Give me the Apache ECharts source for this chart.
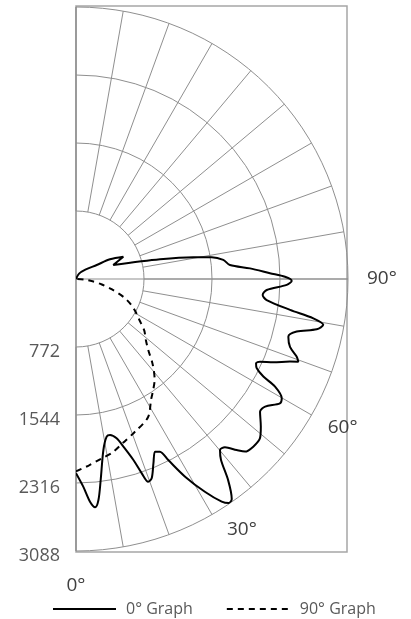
<!DOCTYPE html>
<html>
<head>
<meta charset="utf-8">
<script src="https://cdn.jsdelivr.net/npm/echarts@6/dist/echarts.min.js"></script>
<style>
html,body{margin:0;padding:0;background:#fff;}
#chart{width:411px;height:619px;}
</style>
</head>
<body>
<div id="chart"></div>
<script>
// Tick labels
const radiusTicks = [772, 1544, 2316, 3088];
const angleTicks = [0, 30, 60, 90];
const legendNames = ['0° Graph', '90° Graph'];

// 0° Graph (solid) : angle in degrees, value
const angles0 = [0, 2, 3.6, 4.8, 5.8, 7, 9.1, 11, 12.3, 14.3, 15.8, 17.6, 18.7, 19.6, 20.8, 22.8, 24.6, 25.9, 27, 28.9,
  31.2, 33.2, 34.3, 35.3, 37.1, 38.7, 40.1, 41.5, 43.2, 44.4, 46.6, 49.1, 51.4, 54.2, 56, 58.6, 59.9, 61.6, 62.5, 63.7,
  64.9, 65.8, 67.1, 68.9, 69.6, 70.6, 72.4, 74.8, 76.6, 78.2, 79.5, 80.6, 81.8, 83.7, 85.1, 86.7, 88.4, 89.5, 90.6, 91.7,
  93.5, 95.2, 97.4, 99.1, 100.5, 103.2, 110.6, 115.2, 120.1, 124.1, 135, 150, 180];
const values0 = [2205, 2359, 2533, 2601, 2522, 2299, 1966, 1824, 1813, 1867, 1978, 2156, 2329, 2443, 2420, 2269, 2156, 2180, 2307, 2563,
  2824, 3021, 3080, 3060, 2863, 2633, 2538, 2552, 2664, 2743, 2770, 2763, 2685, 2576, 2590, 2712, 2700, 2569, 2398, 2289,
  2257, 2290, 2432, 2604, 2693, 2657, 2549, 2498, 2576, 2792, 2855, 2731, 2455, 2178, 2127, 2169, 2393, 2449, 2373, 2203,
  1979, 1755, 1686, 1560, 1354, 980, 452, 594, 446, 284, 150, 70, 0];

// 90° Graph (dashed)
const angles90 = [0, 4, 8, 12, 16, 21, 27.5, 32, 35, 38, 42, 45.5, 49, 53, 57, 61, 65, 69, 74, 78, 82, 86, 90];
const values90 = [2185, 2120, 2060, 2010, 1935, 1860, 1770, 1610, 1530, 1450, 1300, 1150, 1050, 970, 860, 775, 690, 585, 420, 300, 190, 90, 0];

const GRID = '#8f8f8f';
const FRAME = '#a6a6a6';
const TXT = '#404040';
const FONT = '"Open Sans", "DejaVu Sans", sans-serif';
const CX = 76, CY = 279, R = 272, RIN = 68;

const chart = echarts.init(document.getElementById('chart'), null, {renderer: 'canvas'});

const labelStyle = {
  0: {padding: [11, 0, 0, 0]},
  30: {padding: [0, 0, 0, 8], lineHeight: 5},
  60: {padding: [0, 0, 0, 4], lineHeight: 11},
  90: {padding: [0, 0, 0, 5]}
};
const rich = {};
angleTicks.forEach(a => {
  rich['a' + a] = Object.assign({fontSize: 19, color: TXT, fontFamily: FONT}, labelStyle[a]);
});

const option = {
  animation: false,
  backgroundColor: '#fff',
  grid: [
    {left: CX, top: 6, width: 271, height: 546, show: true, borderColor: FRAME, borderWidth: 1.5, backgroundColor: 'transparent'},
    {left: CX, top: CY, width: 271, height: R, show: false}
  ],
  xAxis: [
    {gridIndex: 0, show: false, type: 'value'},
    {gridIndex: 1, show: false, type: 'value'}
  ],
  yAxis: [
    {gridIndex: 0, show: false, type: 'value'},
    {gridIndex: 1, type: 'value', min: 0, max: radiusTicks[radiusTicks.length - 1], interval: radiusTicks[0], inverse: true,
      axisLine: {show: false}, axisTick: {show: false}, splitLine: {show: false},
      axisLabel: {show: true, margin: 16,
        formatter: v => radiusTicks.includes(v) ? '{r|' + v + '}' : '',
        rich: {r: {color: '#595959', fontSize: 18, fontFamily: FONT, padding: [10, 0, 0, 0]}}}}
  ],
  polar: [
    {center: [CX, CY], radius: R},
    {center: [CX, CY], radius: [RIN, R]}
  ],
  angleAxis: [
    {polarIndex: 0, type: 'value', min: 0, max: 180, interval: 90, startAngle: -90, endAngle: 90, clockwise: false,
      axisLine: {show: false}, axisTick: {show: false}, axisLabel: {show: false},
      splitLine: {show: true, lineStyle: {color: GRID, width: 1}}},
    {polarIndex: 1, type: 'value', min: 0, max: 180, interval: 10, startAngle: -90, endAngle: 90, clockwise: false,
      axisLine: {show: false}, axisTick: {show: false},
      axisLabel: {show: true, margin: 14, formatter: v => angleTicks.includes(v) ? '{a' + v + '|' + v + '°}' : '', rich: rich},
      splitLine: {show: true, lineStyle: {color: GRID, width: 1}}}
  ],
  radiusAxis: [
    {polarIndex: 0, type: 'value', min: 0, max: radiusTicks[radiusTicks.length - 1], interval: radiusTicks[0],
      axisLine: {show: false}, axisTick: {show: false}, axisLabel: {show: false},
      splitLine: {show: true, lineStyle: {color: GRID, width: 1}}},
    {polarIndex: 1, type: 'value', min: radiusTicks[0], max: radiusTicks[radiusTicks.length - 1], interval: radiusTicks[0],
      axisLine: {show: false}, axisTick: {show: false}, axisLabel: {show: false}, splitLine: {show: false}}
  ],
  legend: {
    data: legendNames,
    left: 47, top: 596,
    itemWidth: 63, itemHeight: 14, itemGap: 33,
    itemStyle: {color: 'rgba(0,0,0,0)', borderWidth: 0, opacity: 0},
    textStyle: {color: '#595959', fontSize: 16, fontFamily: FONT, padding: [0, 0, 0, 5]}
  },
  series: [
    {name: legendNames[0], type: 'line', coordinateSystem: 'polar', polarIndex: 0,
      data: angles0.map((a, i) => [values0[i], a]),
      smooth: 0.3, symbol: 'none', lineStyle: {color: '#000', width: 2}, itemStyle: {color: 'rgba(0,0,0,0)'}},
    {name: legendNames[1], type: 'line', coordinateSystem: 'polar', polarIndex: 0,
      data: angles90.map((a, i) => [values90[i], a]),
      smooth: 0.3, symbol: 'none', lineStyle: {color: '#000', width: 2, type: [6, 5]}, itemStyle: {color: 'rgba(0,0,0,0)'}}
  ]
};
chart.setOption(option);
</script>
</body>
</html>
